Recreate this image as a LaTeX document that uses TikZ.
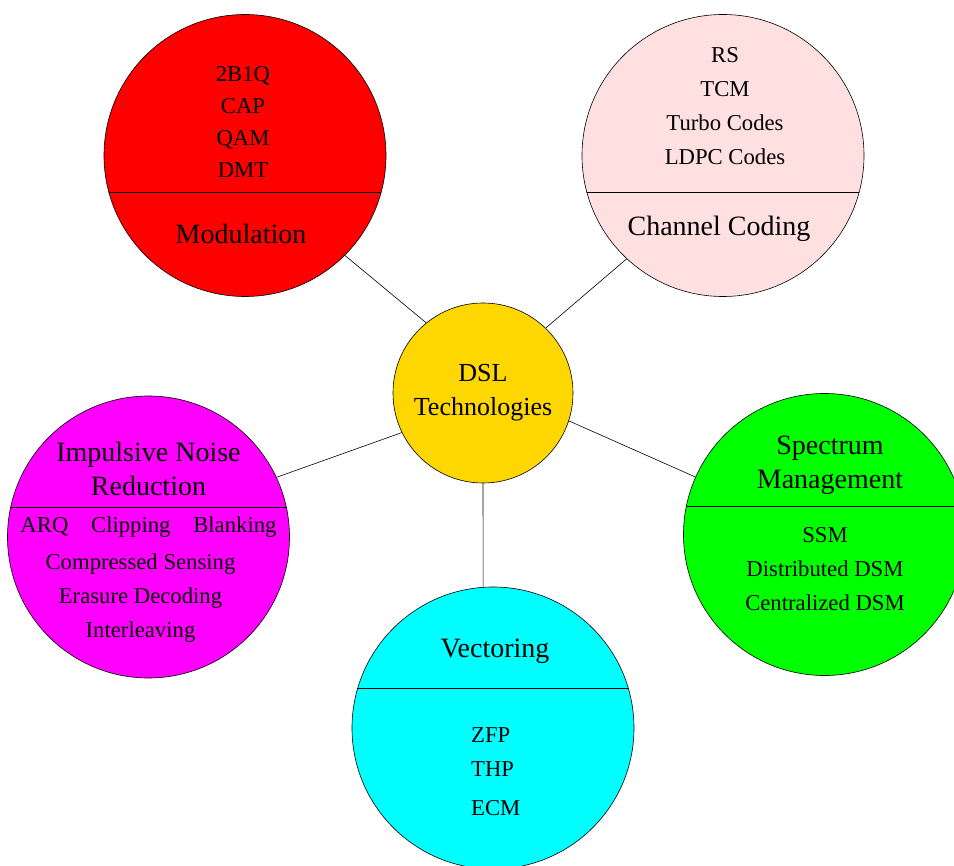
\documentclass[tikz,border=0pt]{standalone}
\usepackage{fontspec}
\setmainfont{Liberation Serif}
\usepackage{tikz}

\definecolor{codepink}{RGB}{255,224,224}
\definecolor{dslgold}{RGB}{255,215,0}
\definecolor{modred}{RGB}{255,0,0}
\definecolor{impmagenta}{RGB}{255,0,255}
\definecolor{specgreen}{RGB}{0,255,0}
\definecolor{veccyan}{RGB}{0,255,255}

\begin{document}
\begin{tikzpicture}[x=1pt,y=-1pt,
  bubble/.style={circle,draw,line width=0.6pt,minimum size=282pt,inner sep=0pt},
  split/.style={path picture={\draw[line width=0.6pt] ([yshift=#1]path picture bounding box.west) -- ([yshift=#1]path picture bounding box.east);}},
  title/.style={align=center,inner sep=0pt,font=\fontsize{28}{34}\selectfont},
  items/.style={align=center,inner sep=0pt,font=\fontsize{22.7}{34}\selectfont}]
  \clip (0,0) rectangle (954,866);

  %centre
  \node[circle,draw,line width=0.6pt,fill=dslgold,minimum size=180pt,inner sep=0pt,align=center,font=\fontsize{26}{34}\selectfont] (dsl) at (483,393) {DSL\\Technologies};

  %top left
  \node[bubble,fill=modred,split=-36.5pt] (mod) at (245,155.5) {};
  \node[items,at=(mod),xshift=-2pt,yshift=33.5pt,font=\fontsize{22.7}{32}\selectfont] (modlist) {2B1Q\\CAP\\QAM\\DMT};
  \node[title,at=(mod),xshift=-4pt,yshift=-78.5pt] (modtitle) {Modulation};

  %top right
  \node[bubble,fill=codepink,split=-36.5pt] (chan) at (723,155.5) {};
  \node[items,at=(chan),xshift=2pt,yshift=49.5pt] (chanlist) {RS\\TCM\\Turbo Codes\\LDPC Codes};
  \node[title,at=(chan),xshift=-4pt,yshift=-73.5pt] (chantitle) {Channel Coding};

  %left
  \node[bubble,fill=impmagenta,split=30pt] (imp) at (148.5,537) {};
  \node[title,at=(imp),yshift=68pt] (imptitle) {Impulsive Noise\\Reduction};
  \node[items,at=(imp),yshift=10pt] (improw) {ARQ\quad Clipping\quad Blanking};
  \node[items,at=(imp),xshift=-8pt,yshift=-61pt] (implist) {Compressed Sensing\\Erasure Decoding\\Interleaving};

  %right
  \node[bubble,fill=specgreen,split=28.5pt] (spec) at (824.5,534.5) {};
  \node[title,at=(spec),xshift=5.5pt,yshift=69.5pt] (spectitle) {Spectrum\\Management};
  \node[items,at=(spec),xshift=0.5pt,yshift=-34.5pt] (speclist) {SSM\\Distributed DSM\\Centralized DSM};

  %bottom
  \node[bubble,fill=veccyan,split=40pt] (vec) at (493,728) {};
  \node[title,at=(vec),xshift=2pt,yshift=77pt] (vectitle) {Vectoring};
  \node[items,align=left,anchor=west,at=(vec),xshift=-22pt,yshift=-44pt] (veclist) {ZFP\\THP\\[5pt]ECM};

  %links
  \draw[line width=0.6pt] (dsl.129) -- (mod.-45);
  \draw[line width=0.6pt] (dsl.46) -- (chan.-133);
  \draw[line width=0.6pt] (dsl.206) -- (imp.25);
  \draw[line width=0.6pt] (dsl.-18) -- (spec.156);
  \draw[line width=0.6pt] (dsl.-90) -- (vec.94);
\end{tikzpicture}
\end{document}
